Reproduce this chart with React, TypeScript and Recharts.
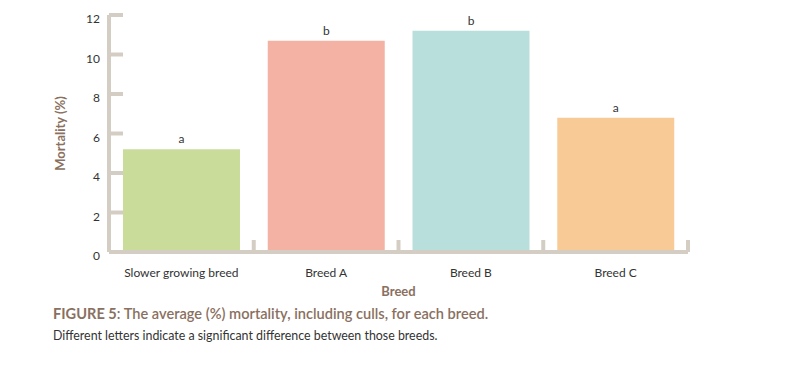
import React from 'react';
import { BarChart, Bar, XAxis, YAxis, Cell, LabelList } from 'recharts';

const breeds = ['Slower growing breed', 'Breed A', 'Breed B', 'Breed C'];
const mortality = [5.2, 10.7, 11.2, 6.8];
const letters = ['a', 'b', 'b', 'a'];
const barColors = ['#c9dc9a', '#f4b2a5', '#b9dfdc', '#f8cb96'];
const yTicks = [0, 2, 4, 6, 8, 10, 12];
const boundaryTicks = [0, 1, 2, 3, 4];

const data = breeds.map((breed, i) => ({
  breed,
  pos: i + 0.5,
  mortality: mortality[i],
  letter: letters[i],
}));

const axisColor = '#d4cdc4';
const brown = '#8a7060';
const font = 'Lato, "Noto Sans", sans-serif';

const App: React.FC = () => {
  return (
    <div style={{ position: 'absolute', left: 0, top: 0, width: 809, height: 376, background: '#fff', fontFamily: font }}>
      <BarChart
        width={809}
        height={300}
        data={data}
        margin={{ top: 15, right: 121, left: 0, bottom: 4 }}
        barCategoryGap={14}
      >
        <YAxis
          type="number"
          domain={[0, 12]}
          ticks={yTicks}
          width={109}
          axisLine={{ stroke: axisColor, strokeWidth: 4 }}
          tickLine={{ stroke: axisColor, strokeWidth: 4 }}
          tickSize={-14}
          tickMargin={23}
          tick={{ fill: '#333', fontSize: 12, fontFamily: font, dy: 4 }}
          label={{
            value: 'Mortality (%)',
            angle: -90,
            position: 'center',
            dx: 6,
            style: { fill: brown, fontSize: 13, fontWeight: 700, fontFamily: font },
          }}
        />
        <XAxis
          xAxisId="cat"
          dataKey="breed"
          type="category"
          height={44}
          axisLine={false}
          tickLine={false}
          tickSize={0}
          tickMargin={16}
          tick={{ fill: '#333', fontSize: 12, fontFamily: font }}
          interval={0}
          label={{
            value: 'Breed',
            position: 'insideBottom',
            offset: 0,
            style: { fill: brown, fontSize: 13, fontWeight: 700, fontFamily: font },
          }}
        />
        <XAxis
          xAxisId="grid"
          type="number"
          dataKey="pos"
          domain={[0, 4]}
          ticks={boundaryTicks}
          mirror
          height={1}
          axisLine={{ stroke: axisColor, strokeWidth: 4 }}
          tickLine={{ stroke: axisColor, strokeWidth: 4 }}
          tickSize={12}
          tickFormatter={() => ''}
        />
        <Bar xAxisId="cat" dataKey="mortality" isAnimationActive={false}>
          {data.map((d, i) => (
            <Cell key={d.breed} fill={barColors[i]} />
          ))}
          <LabelList
            dataKey="letter"
            position="top"
            offset={6}
            style={{ fill: '#333', fontSize: 12, fontFamily: font }}
          />
        </Bar>
      </BarChart>
      <div style={{ position: 'absolute', left: 53, top: 305, fontSize: 14.6, fontWeight: 700, color: brown, whiteSpace: 'nowrap' }}>
        FIGURE 5<span style={{ fontWeight: 600 }}>: The average (%) mortality, including culls, for each breed.</span>
      </div>
      <div style={{ position: 'absolute', left: 53, top: 328, fontSize: 12.4, color: '#333', whiteSpace: 'nowrap' }}>
        Different letters indicate a significant difference between those breeds.
      </div>
    </div>
  );
};

export default App;
